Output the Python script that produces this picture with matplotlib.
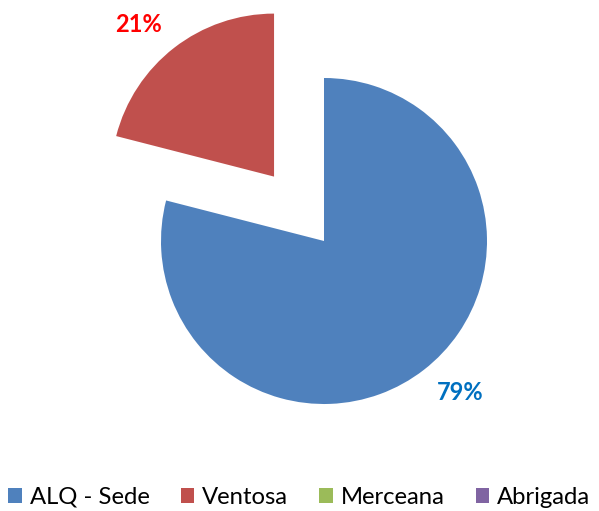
import math
import matplotlib
matplotlib.use("Agg")
import matplotlib.pyplot as plt
from matplotlib.patches import Patch

categories = ["ALQ - Sede", "Ventosa", "Merceana", "Abrigada"]
values = [79, 21, 0, 0]
colors = ["#4F81BD", "#C0504D", "#9BBB59", "#8064A2"]
explode = [0, 0.5, 0, 0]
label_colors = ["#0070C0", "#FF0000", "#000000", "#000000"]

plt.rcParams['font.family'] = ['Lato', 'DejaVu Sans']

W, H = 599, 511
fig = plt.figure(figsize=(W / 100, H / 100), dpi=100)
ax = fig.add_axes([0, 0, 1, 1])

R = 163.0
cx, cy = 324.0, 241.0

def fmt(p):
    return f"{p:.0f}%" if p > 0.5 else ""

wedges, texts, autotexts = ax.pie(values, colors=colors, explode=explode,
                                  startangle=90, counterclock=False,
                                  autopct=fmt, pctdistance=1.25,
                                  wedgeprops=dict(linewidth=0),
                                  textprops=dict(fontsize=17, fontweight='bold'))
# rotate label positions slightly counter-clockwise around each wedge centre
rot = math.radians(4.0)
for t, c, w in zip(autotexts, label_colors, wedges):
    t.set_color(c)
    wx, wy = w.center
    x, y = t.get_position()
    dx, dy = x - wx, y - wy
    t.set_position((wx + dx * math.cos(rot) - dy * math.sin(rot),
                    wy + dx * math.sin(rot) + dy * math.cos(rot)))

ax.set_aspect('auto')
ax.set_xlim((0 - cx) / R, (W - cx) / R)
ax.set_ylim((cy - H) / R, cy / R)
ax.axis('off')

handles = [Patch(facecolor=c, edgecolor='none') for c in colors]
fig.legend(handles, categories, loc='lower center', ncol=4, frameon=False,
           bbox_to_anchor=(0.5, -0.036), fontsize=17.2, handlelength=0.55,
           handleheight=0.55, handletextpad=0.35, columnspacing=1.3)

fig.savefig("out.png", dpi=100)
